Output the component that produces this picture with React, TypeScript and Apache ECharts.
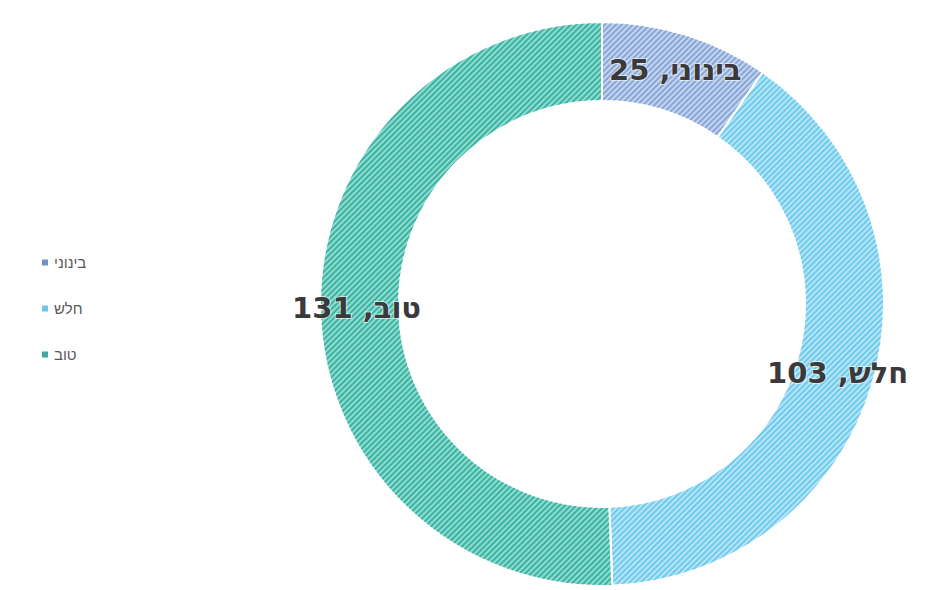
import React, { useEffect, useRef } from "react";
import * as echarts from "echarts";

const categories = ["בינוני", "חלש", "טוב"];
const values = [25, 103, 131];
const baseColors = ["#c4d4ee", "#b5e4f6", "#8fdccf"];
const stripeColors = ["#88a6d8", "#6fcbed", "#3bb3a3"];
const legendColors = ["#6f93c9", "#6cc6e8", "#3fa9a0"];

export default function App() {
  const ref = useRef<HTMLDivElement>(null);
  useEffect(() => {
    document.body.style.margin = "0";
    const chart = echarts.init(ref.current!, null, { renderer: "svg" });
    chart.setOption({
      animation: false,
      backgroundColor: "#ffffff",
      legend: {
        orient: "vertical",
        left: 35,
        top: 250,
        itemWidth: 8,
        itemHeight: 8,
        itemGap: 31,
        icon: "rect",
        textStyle: { color: "#595959", fontSize: 15, fontFamily: "Liberation Sans" },
        data: categories.map((c, i) => ({ name: c, itemStyle: { color: legendColors[i], decal: "none" } })),
      },
      series: [
        {
          type: "pie",
          center: [602, 304],
          radius: [203, 282],
          startAngle: 90,
          clockwise: true,
          avoidLabelOverlap: false,
          itemStyle: { borderColor: "#ffffff", borderWidth: 2 },
          label: {
            show: true,
            position: "inside",
            formatter: "{b}, {c}",
            fontSize: 29,
            fontWeight: "bold",
            fontFamily: "DejaVu Sans",
            color: "#3a3a3a",
            textBorderColor: "rgba(255,255,255,0.6)",
            textBorderWidth: 2,
          },
          labelLine: { show: false },
          data: categories.map((c, i) => ({
            name: c,
            value: values[i],
            itemStyle: {
              color: baseColors[i],
              decal: {
                symbol: "rect",
                symbolSize: 1,
                color: stripeColors[i],
                dashArrayX: [1, 0],
                dashArrayY: [1.5, 1.5],
                rotation: -Math.PI / 4,
              },
            },
          })),
        },
      ],
    });
    return () => chart.dispose();
  }, []);
  return <div ref={ref} style={{ position: "absolute", left: 0, top: 0, width: 949, height: 590 }} />;
}
